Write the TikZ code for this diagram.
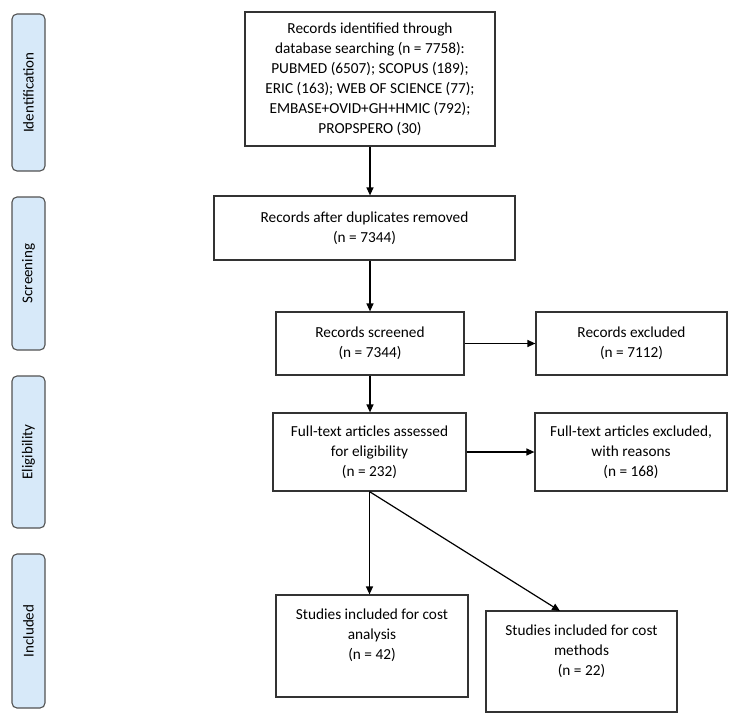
\documentclass[tikz,border=0pt]{standalone}
\usepackage{fontspec}
\setmainfont{Carlito}
\usetikzlibrary{arrows.meta}
\definecolor{sidefill}{HTML}{D7E9F9}
\definecolor{edge}{HTML}{333333}
\tikzset{
  box/.style={draw=edge, line width=1.2pt, fill=white, align=center, inner sep=0pt,
    font=\fontsize{15.3}{20}\selectfont},
  sidebox/.style={draw=edge!85, line width=1.1pt, fill=sidefill, rounded corners=5pt,
    inner sep=0pt, minimum width=33pt},
  sidetext/.style={rotate=90, font=\fontsize{15}{17}\selectfont},
  arr/.style={line width=1.2pt, draw=black, -{Triangle[length=8pt,width=7pt]}}
}
\begin{document}
\begin{tikzpicture}[x=1pt,y=-1pt]
\useasboundingbox[fill=white] (0,0) rectangle (738,725);
% side stages
\node[sidebox, minimum height=157pt] (sid) at (28.5,92.5) {};
\node[sidetext] (tid) at (sid.center) {Identification};
\node[sidebox, minimum height=153pt] (ssc) at (28.5,273.5) {};
\node[sidetext] (tsc) at (ssc.center) {Screening};
\node[sidebox, minimum height=152pt] (sel) at (28.5,452) {};
\node[sidetext] (tel) at (sel.center) {Eligibility};
\node[sidebox, minimum height=154pt] (sin) at (28.5,631) {};
\node[sidetext] (tin) at (sin.center) {Included};
% main boxes
\node[box, minimum width=250pt, minimum height=134pt] (top) at (370,79)
  {Records identified through\\database searching (n = 7758):\\PUBMED (6507); SCOPUS (189);\\ERIC (163); WEB OF SCIENCE (77);\\EMBASE+OVID+GH+HMIC (792);\\PROPSPERO (30)};
\node[box, minimum width=301pt, minimum height=64pt] (dup) at (364.5,228)
  {Records after duplicates removed\\(n = 7344)};
\node[box, minimum width=188pt, minimum height=63pt] (scr) at (370,343.5)
  {Records screened\\(n = 7344)};
\node[box, minimum width=191pt, minimum height=63pt] (exc) at (631.5,343.5)
  {Records excluded\\(n = 7112)};
\node[box, minimum width=193pt, minimum height=78pt] (ft) at (369.5,452)
  {Full-text articles assessed\\for eligibility\\(n = 232)};
\node[box, minimum width=192pt, minimum height=78pt] (ftx) at (631,452)
  {Full-text articles excluded,\\with reasons\\(n = 168)};
\node[box, minimum width=192pt, minimum height=102pt] (ca) at (372,646)
  {Studies included for cost\\analysis\\(n = 42)\\[3pt]\mbox{}};
\node[box, minimum width=191pt, minimum height=101pt] (cm) at (581.5,661.5)
  {Studies included for cost\\methods\\(n = 22)\\[3pt]\mbox{}};
\coordinate (cmtip) at (560,611);
% connectors
\draw[arr] (top.south) -- (top.south |- dup.north);
\draw[arr] (scr.north |- dup.south) -- (scr.north);
\draw[arr] (scr.south) -- (scr.south |- ft.north);
\draw[arr] (scr.east) -- (exc.west);
\draw[arr] (ft.east) -- (ftx.west);
\draw[arr] (ft.south) -- (ft.south |- ca.north);
\draw[arr] (ft.south) -- (cmtip);
\end{tikzpicture}
\end{document}
